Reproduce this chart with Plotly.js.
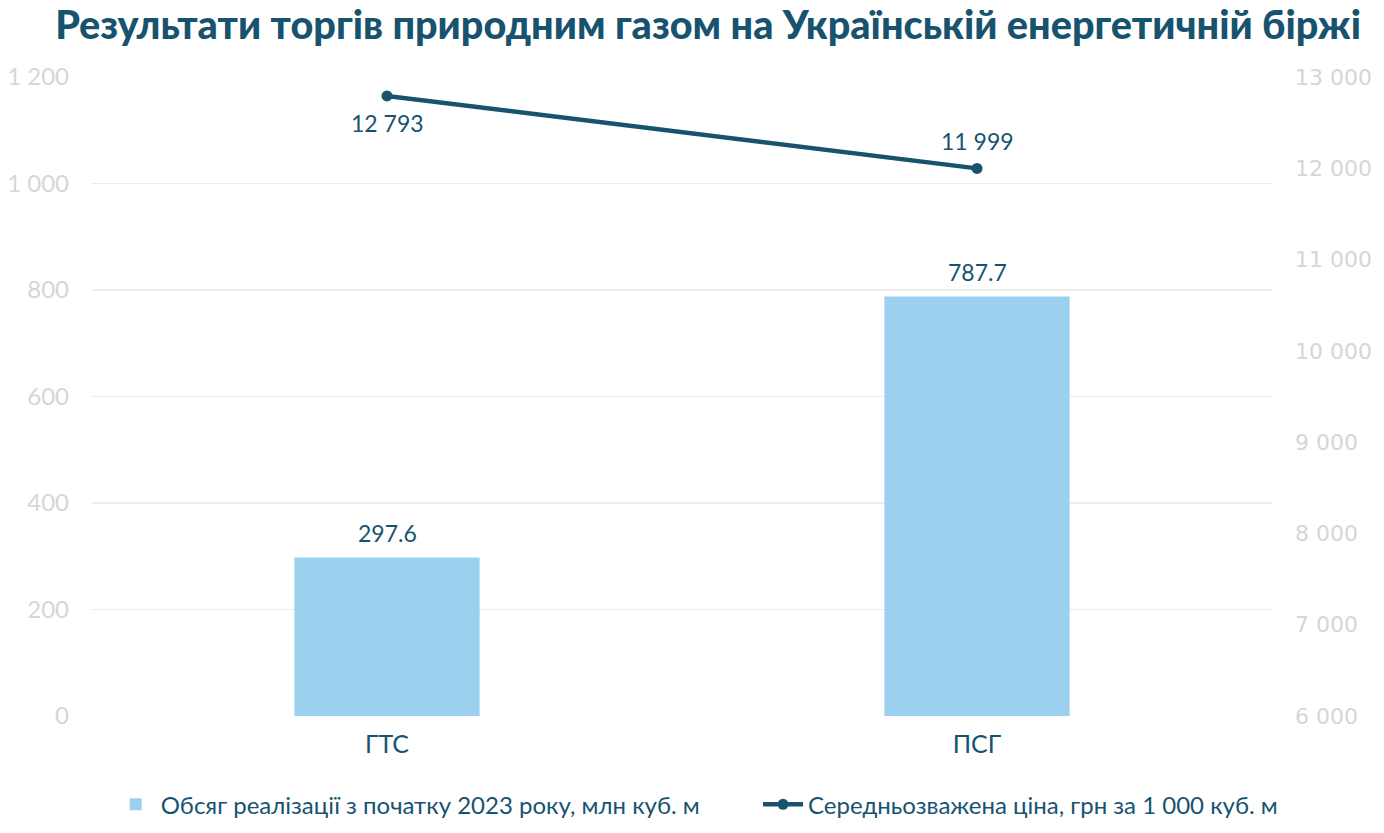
<!DOCTYPE html>
<html>
<head>
<meta charset="utf-8">
<script src="https://cdn.plot.ly/plotly-3.0.1.min.js"></script>
<style>
  html, body { margin: 0; padding: 0; background: #fff; }
  #chart { width: 1384px; height: 833px; }
</style>
</head>
<body>
<div id="chart"></div>
<script>
// categories and values
let categories = ['ГТС', 'ПСГ'];
let volumes = [297.6, 787.7];
let prices = [12793, 11999];

let volumeName = 'Обсяг реалізації з початку 2023 року, млн куб. м';
let priceName = 'Середньозважена ціна, грн за 1 000 куб. м';

let dark = '#17536f';
let tickGray = '#d6d6d6';
let labelFont = { color: dark, size: 23, family: 'Lato, sans-serif' };
let legendFont = { family: 'Lato, sans-serif', size: 24, color: dark };

function fmtSpace(n) {
    // 12793 -> "12 793"
    return String(n).replace(/\B(?=(\d{3})+(?!\d))/g, ' ');
}

function graph() {
    var bars = {
        x: categories,
        y: volumes,
        type: 'bar',
        name: volumeName,
        legend: 'legend',
        marker: { color: '#9bd1ee' },
        hoverinfo: 'none'
    };

    var line = {
        x: categories,
        y: prices,
        type: 'scatter',
        mode: 'lines+markers',
        name: priceName,
        legend: 'legend2',
        yaxis: 'y2',
        line: { color: dark, width: 4.5 },
        marker: { color: dark, size: 11 },
        cliponaxis: false,
        hoverinfo: 'none'
    };

    // value labels, placed on the data through the axes
    var notes = [];
    for (let i = 0; i < categories.length; i++) {
        notes.push({
            x: categories[i], y: volumes[i], xref: 'x', yref: 'y',
            text: volumes[i].toFixed(1), showarrow: false,
            yanchor: 'bottom', yshift: 9, font: labelFont
        });
    }
    // first price label sits under its point, the second one above
    notes.push({
        x: categories[0], y: prices[0], xref: 'x', yref: 'y2',
        text: fmtSpace(prices[0]), showarrow: false,
        yanchor: 'middle', yshift: -27, font: labelFont
    });
    notes.push({
        x: categories[1], y: prices[1], xref: 'x', yref: 'y2',
        text: fmtSpace(prices[1]), showarrow: false,
        yanchor: 'middle', yshift: 27, font: labelFont
    });

    var layout = {
        width: 1384,
        height: 833,
        separators: '. ',
        paper_bgcolor: '#ffffff',
        plot_bgcolor: '#ffffff',
        margin: { l: 92, r: 112, t: 77, b: 117 },
        bargap: 0.686,
        showlegend: true,
        annotations: notes,
        title: {
            text: 'Результати торгів природним газом на Українській енергетичній біржі',
            font: { family: 'Lato, sans-serif', size: 39.6, color: dark, weight: 900 },
            x: 0.5116,
            xanchor: 'center',
            y: 0.970,
            yanchor: 'middle'
        },
        xaxis: {
            showgrid: false,
            zeroline: false,
            showline: false,
            ticks: '',
            ticklabelstandoff: 11,
            tickfont: { family: 'Lato, sans-serif', size: 25, color: dark }
        },
        yaxis: {
            range: [0, 1200],
            dtick: 200,
            tickformat: ',d',
            showgrid: true,
            gridcolor: '#ececec',
            gridwidth: 1.5,
            zeroline: false,
            showline: false,
            ticks: '',
            ticklabelstandoff: 22,
            tickfont: { family: 'Lato, sans-serif', size: 24, color: tickGray },
            fixedrange: true
        },
        yaxis2: {
            overlaying: 'y',
            side: 'right',
            range: [6000, 13000],
            dtick: 1000,
            tickformat: ',d',
            showgrid: false,
            zeroline: false,
            showline: false,
            ticks: '',
            ticklabelstandoff: 22,
            tickfont: { family: '"DejaVu Sans", sans-serif', size: 22, color: tickGray },
            fixedrange: true
        },
        legend: {
            orientation: 'h',
            xref: 'container',
            yref: 'container',
            x: 0.080,
            xanchor: 'left',
            y: 0.034,
            yanchor: 'middle',
            font: legendFont,
            itemwidth: 40
        },
        legend2: {
            orientation: 'h',
            xref: 'container',
            yref: 'container',
            x: 0.5477,
            xanchor: 'left',
            y: 0.034,
            yanchor: 'middle',
            font: legendFont,
            itemwidth: 40
        }
    };

    Plotly.newPlot('chart', [bars, line], layout, { displayModeBar: false, staticPlot: true });
}

graph();
</script>
</body>
</html>
